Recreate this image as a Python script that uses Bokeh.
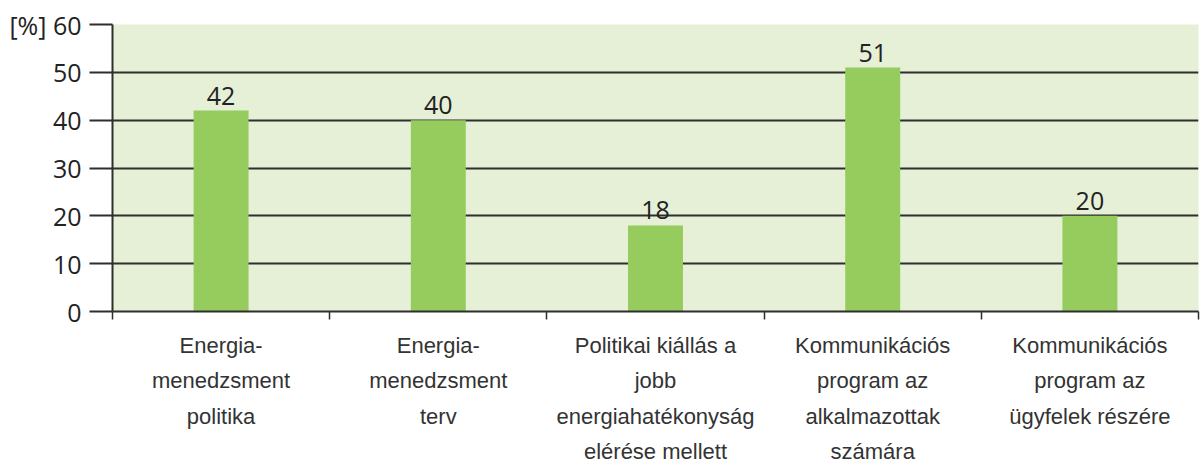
from bokeh.plotting import figure
from bokeh.models import FixedTicker, Range1d, LinearAxis, ColumnDataSource
from bokeh.core.properties import value
from bokeh.embed import file_html
from bokeh.resources import INLINE

categories = [
    "Energia-\nmenedzsment\npolitika",
    "Energia-\nmenedzsment\nterv",
    "Politikai kiállás a\njobb\nenergiahatékonyság\nelérése mellett",
    "Kommunikációs\nprogram az\nalkalmazottak\nszámára",
    "Kommunikációs\nprogram az\nügyfelek részére",
]
values = [42, 40, 18, 51, 20]
y_ticks = [0, 10, 20, 30, 40, 50, 60]
y_unit_label = "[%]"

n = len(categories)
xs = [i + 0.5 for i in range(n)]

p = figure(width=1201, height=467, output_backend="svg", toolbar_location=None,
           x_range=Range1d(0, n), y_range=Range1d(0, 60),
           min_border_left=112, min_border_right=3, min_border_top=24, min_border_bottom=20)
p.outline_line_color = None
p.background_fill_color = "#E5F0D7"
p.border_fill_color = "white"

src = ColumnDataSource(dict(x=xs, top=values, lab=[str(v) for v in values]))
p.vbar(x="x", top="top", width=0.253, bottom=0, source=src,
       fill_color="#96CB5E", line_color=None)
p.text(x="x", y="top", text="lab", source=src, text_align="center", text_baseline="bottom",
       y_offset=-6, text_font=value("Open Sans"), text_font_size="25px", text_color="#222222")

# grid
p.xgrid.visible = False
p.ygrid.ticker = FixedTicker(ticks=y_ticks)
p.ygrid.grid_line_color = "#2E2E2E"
p.ygrid.grid_line_width = 2

# y axis
ya = p.yaxis[0]
ya.ticker = FixedTicker(ticks=y_ticks)
ya.major_tick_out = 23
ya.major_tick_in = 0
ya.minor_tick_line_color = None
ya.major_tick_line_width = 2
ya.major_tick_line_color = "#2E2E2E"
ya.axis_line_width = 2
ya.axis_line_color = "#2E2E2E"
ya.major_label_text_font = "Open Sans"
ya.major_label_text_font_size = "25px"
ya.major_label_text_color = "#222222"
ya.major_label_standoff = 8
ya.major_label_overrides = {60: y_unit_label + " 60"}

# x axis: category boundary ticks
xa = p.xaxis[0]
xa.ticker = FixedTicker(ticks=list(range(n + 1)))
xa.major_tick_out = 8
xa.major_tick_in = 0
xa.minor_tick_line_color = None
xa.major_tick_line_width = 1.5
xa.major_tick_line_color = "#2E2E2E"
xa.axis_line_width = 2
xa.axis_line_color = "#2E2E2E"
xa.major_label_text_font_size = "0px"
xa.major_label_standoff = 0
xa.major_label_overrides = {i: "" for i in range(n + 1)}

# x axis: category labels
xl = LinearAxis(ticker=FixedTicker(ticks=xs))
xl.major_label_overrides = {x: c for x, c in zip(xs, categories)}
xl.axis_line_color = None
xl.major_tick_line_color = None
xl.minor_tick_line_color = None
xl.major_tick_out = 0
xl.major_tick_in = 0
xl.major_label_standoff = 13
xl.major_label_text_font = "Liberation Sans"
xl.major_label_text_font_size = "22px"
xl.major_label_text_color = "#333333"
xl.major_label_text_line_height = 1.42
p.add_layout(xl, "below")

open("out.html", "w").write(file_html(p, INLINE))
